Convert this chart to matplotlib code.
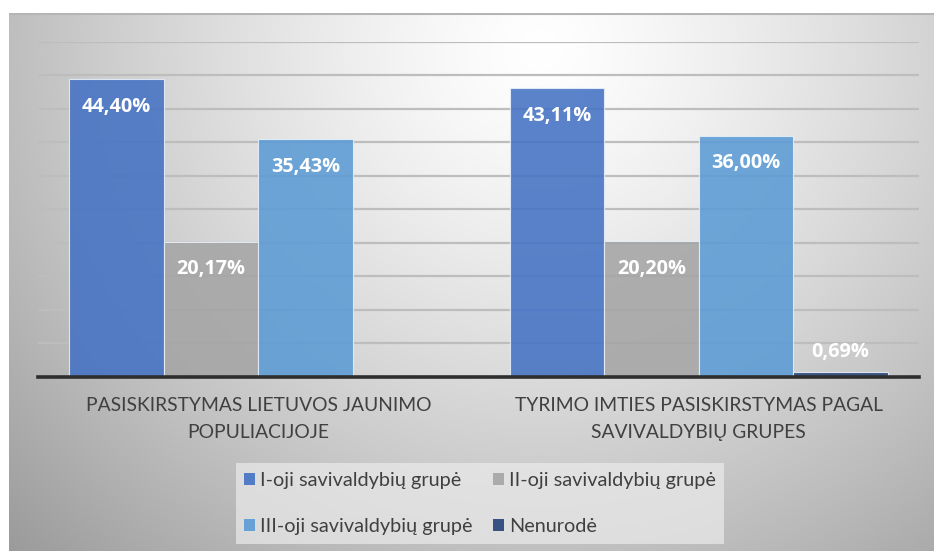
import numpy as np
import matplotlib
matplotlib.use("Agg")
import matplotlib.pyplot as plt
from matplotlib.patches import Patch

categories = ["PASISKIRSTYMAS LIETUVOS JAUNIMO\nPOPULIACIJOJE",
              "TYRIMO IMTIES PASISKIRSTYMAS PAGAL\nSAVIVALDYBIŲ GRUPES"]
series_names = ["I-oji savivaldybių grupė", "II-oji savivaldybių grupė",
                "III-oji savivaldybių grupė", "Nenurodė"]
grupe_1 = [44.40, 43.11]
grupe_2 = [20.17, 20.20]
grupe_3 = [35.43, 36.00]
nenurode = [np.nan, 0.69]
values = [grupe_1, grupe_2, grupe_3, nenurode]
colors = ["#4472C4", "#A5A5A5", "#5B9BD5", "#264478"]

plt.rcParams['font.family'] = ['Lato', 'DejaVu Sans']

W, H = 934, 551
fig = plt.figure(figsize=(W / 100, H / 100), dpi=100)
fig.patch.set_facecolor("white")

# gradient background of the chart area
bg = fig.add_axes([9 / W, 0, 1 - 9 / W, 1 - 13 / H])
yy, xx = np.mgrid[13:551, 9:934]
r = np.sqrt(((xx - 540) / 540.0) ** 2 + ((yy - 50) / 520.0) ** 2)
shade = 1 - 0.26 * np.clip(r, 0, 1.4) ** 1.3
bg.imshow(np.dstack([shade] * 3), aspect="auto", extent=[0, 1, 0, 1])
bg.axis("off")
bg.plot([0, 1], [0.999, 0.999], color="#b5b5b5", lw=1.5, transform=bg.transAxes)

ax = fig.add_axes([38 / W, 1 - 376.5 / H, (919 - 38) / W, 334.5 / H])
ax.patch.set_alpha(0)

x = np.arange(len(categories))
w = 0.2145
for i, (vals, c) in enumerate(zip(values, colors)):
    v = np.nan_to_num(np.array(vals, dtype=float))
    xs = x + (i - 1.5) * w
    ax.bar(xs, v, w, color=c, alpha=0.88, edgecolor="#e8f0fa", linewidth=0.8, zorder=2)
    for xi, val in zip(xs, vals):
        if np.isnan(val):
            continue
        off = -20 if val > 3 else 14.5
        ax.annotate(f"{val:.2f}%".replace(".", ","), (xi, val), xytext=(0, off),
                    textcoords="offset points", ha="center", va="center",
                    color="white", fontsize=14.3, fontweight="bold",
                    family=["Open Sans", "DejaVu Sans"], zorder=3)

ax.set_xlim(-0.5, 1.5)
ax.set_ylim(0, 50)
ax.set_yticks(np.arange(5, 51, 5))
ax.yaxis.grid(True, color="#bdbdbd", lw=1.6, zorder=0)
ax.set_axisbelow(True)
ax.tick_params(axis="y", length=0, labelleft=False)
for s in ["top", "right", "left"]:
    ax.spines[s].set_visible(False)
ax.spines["bottom"].set_color("#2e2e2e")
ax.spines["bottom"].set_linewidth(2.6)
ax.spines["bottom"].set_zorder(4)

ax.set_xticks(x)
ax.set_xticklabels(categories, fontsize=13.9, color="#404040", linespacing=1.72)
ax.tick_params(axis="x", length=0, pad=15)

handles = [Patch(facecolor=c, alpha=0.9) for c in colors]
order = [0, 2, 1, 3]
leg = fig.legend([handles[k] for k in order], [series_names[k] for k in order],
                 ncol=2, loc="center", bbox_to_anchor=(480 / W, 1 - 503.5 / H),
                 fontsize=14.3, frameon=True, facecolor="#ebebeb", edgecolor="none",
                 framealpha=0.7, fancybox=False, handlelength=0.55, handleheight=0.55,
                 handletextpad=0.25, columnspacing=1.0, labelspacing=1.45,
                 borderpad=0.45, borderaxespad=0)
for t in leg.get_texts():
    t.set_color("#404040")

fig.savefig("out.png", dpi=100)
